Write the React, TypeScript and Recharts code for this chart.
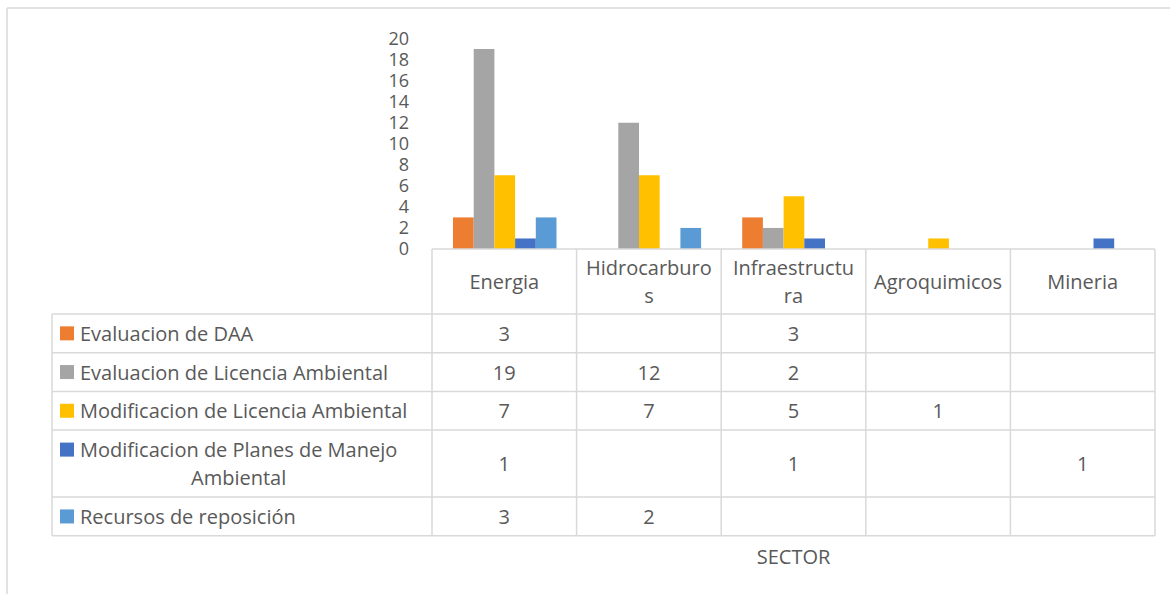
import { BarChart, Bar, XAxis, YAxis } from "recharts";

const sectors = ["Energia", "Hidrocarburos", "Infraestructura", "Agroquimicos", "Mineria"];
const seriesNames = [
  "Evaluacion de DAA",
  "Evaluacion de Licencia Ambiental",
  "Modificacion de Licencia Ambiental",
  "Modificacion de Planes de Manejo Ambiental",
  "Recursos de reposición",
];
const seriesColors = ["#ED7D31", "#A5A5A5", "#FFC000", "#4472C4", "#5B9BD5"];
const evaluacionDAA = [3, null, 3, null, null];
const evaluacionLicencia = [19, 12, 2, null, null];
const modificacionLicencia = [7, 7, 5, 1, null];
const modificacionPlanes = [1, null, 1, null, 1];
const recursosReposicion = [3, 2, null, null, null];
const yTicks = [0, 2, 4, 6, 8, 10, 12, 14, 16, 18, 20];
const axisTitle = "SECTOR";

const seriesValues = [evaluacionDAA, evaluacionLicencia, modificacionLicencia, modificacionPlanes, recursosReposicion];
const data = sectors.map((sector, i) => {
  const row: Record<string, any> = { sector };
  seriesValues.forEach((vals, s) => (row["s" + s] = vals[i]));
  return row;
});

const W = 1170;
const H = 594;
const FONT = "'Open Sans', sans-serif";
const TXT = "#595959";
const LINE = "#d9d9d9";
const plotLeft = 432;
const plotRight = 1155;
const plotTop = 38.4;
const plotBottom = 249;
const legendLeft = 52;
const colW = (plotRight - plotLeft) / sectors.length;

let ctx: CanvasRenderingContext2D | null = null;
function measure(t: string) {
  if (!ctx) ctx = document.createElement("canvas").getContext("2d");
  if (!ctx) return t.length * 10;
  ctx.font = "20px 'Open Sans'";
  return ctx.measureText(t).width;
}
// excel-like wrap inside narrow cells: break anywhere
function wrapChars(t: string, max: number) {
  const lines: string[] = [];
  let cur = "";
  for (const ch of t) {
    if (cur && measure(cur + ch) > max) {
      lines.push(cur);
      cur = ch;
    } else cur += ch;
  }
  if (cur) lines.push(cur);
  return lines;
}
function wrapWords(t: string, max: number) {
  const lines: string[] = [];
  let cur = "";
  for (const w of t.split(" ")) {
    const next = cur ? cur + " " + w : w;
    if (cur && measure(next) > max) {
      lines.push(cur);
      cur = w;
    } else cur = next;
  }
  if (cur) lines.push(cur);
  return lines;
}

function DataTable() {
  const headerLines = sectors.map((s) => wrapChars(s, 129.3));
  const legendLines = seriesNames.map((s) => wrapWords(s, 348));
  const lh = 28;
  const headerH = 65;
  const rowHs = legendLines.map((l) => (l.length > 1 ? 67 : 38.7));
  const rowTops: number[] = [];
  let y = plotBottom + headerH;
  rowHs.forEach((h) => {
    rowTops.push(y);
    y += h;
  });
  const tableBottom = y;
  const els: any[] = [];
  // outer frame (only top and left visible)
  els.push(<line key="fl" x1={7} y1={8} x2={7} y2={H} stroke={LINE} strokeWidth={1.5} />);
  els.push(<line key="ft" x1={7} y1={8} x2={W} y2={8} stroke={LINE} strokeWidth={1.5} />);
  // table grid
  els.push(<line key="ht" x1={plotLeft} y1={plotBottom} x2={plotRight} y2={plotBottom} stroke={LINE} strokeWidth={1.5} />);
  for (let c = 0; c <= sectors.length; c++) {
    const x = plotLeft + c * colW;
    els.push(<line key={"v" + c} x1={x} y1={plotBottom} x2={x} y2={tableBottom} stroke={LINE} strokeWidth={1.5} />);
  }
  els.push(<line key="vl" x1={legendLeft} y1={rowTops[0]} x2={legendLeft} y2={tableBottom} stroke={LINE} strokeWidth={1.5} />);
  [...rowTops, tableBottom].forEach((ry, i) =>
    els.push(<line key={"h" + i} x1={legendLeft} y1={ry} x2={plotRight} y2={ry} stroke={LINE} strokeWidth={1.5} />)
  );
  // header labels
  headerLines.forEach((lines, c) => {
    const cx = plotLeft + (c + 0.5) * colW;
    const cy = plotBottom + headerH / 2;
    lines.forEach((ln, k) => {
      els.push(
        <text key={"hd" + c + k} x={cx} y={cy + (k - (lines.length - 1) / 2) * lh} textAnchor="middle" dominantBaseline="central" fontSize={20} fill={TXT} fontFamily={FONT}>
          {ln}
        </text>
      );
    });
  });
  // legend rows and values
  seriesNames.forEach((_, s) => {
    const top = rowTops[s];
    const cy = top + rowHs[s] / 2;
    const lines = legendLines[s];
    const firstY = cy - ((lines.length - 1) / 2) * lh;
    const wrapped = lines.length > 1;
    const mid = 80 + measure(lines[0]) / 2;
    els.push(<rect key={"k" + s} x={60} y={firstY - 7} width={14} height={14} fill={seriesColors[s]} />);
    lines.forEach((ln, k) => {
      els.push(
        <text key={"lg" + s + k} x={wrapped ? mid : 80} y={firstY + k * lh} textAnchor={wrapped ? "middle" : "start"} dominantBaseline="central" fontSize={20} fill={TXT} fontFamily={FONT}>
          {ln}
        </text>
      );
    });
    seriesValues[s].forEach((v, c) => {
      if (v == null) return;
      els.push(
        <text key={"v" + s + c} x={plotLeft + (c + 0.5) * colW} y={cy} textAnchor="middle" dominantBaseline="central" fontSize={20} fill={TXT} fontFamily={FONT}>
          {v}
        </text>
      );
    });
  });
  els.push(
    <text key="title" x={(plotLeft + plotRight) / 2} y={556} textAnchor="middle" dominantBaseline="central" fontSize={20} fill={TXT} fontFamily={FONT}>
      {axisTitle}
    </text>
  );
  return (
    <svg width={W} height={H} style={{ position: "absolute", left: 0, top: 0, pointerEvents: "none" }}>
      {els}
    </svg>
  );
}

export default function App() {
  return (
    <div style={{ position: "absolute", left: 0, top: 0, width: W, height: H, background: "#fff" }}>
      <BarChart
        width={W}
        height={H}
        data={data}
        margin={{ top: plotTop, right: W - plotRight, bottom: H - plotBottom, left: plotLeft - 60 }}
        barGap={0}
        barSize={20.7}
      >
        <XAxis dataKey="sector" hide />
        <YAxis
          width={60}
          domain={[0, 20]}
          ticks={yTicks}
          interval={0}
          axisLine={false}
          tickLine={false}
          tickSize={0}
          tickMargin={23}
          tick={{ fontSize: 18, fill: TXT, fontFamily: FONT }}
        />
        {seriesNames.map((name, s) => (
          <Bar key={name} dataKey={"s" + s} name={name} fill={seriesColors[s]} isAnimationActive={false} />
        ))}
      </BarChart>
      <DataTable />
    </div>
  );
}
